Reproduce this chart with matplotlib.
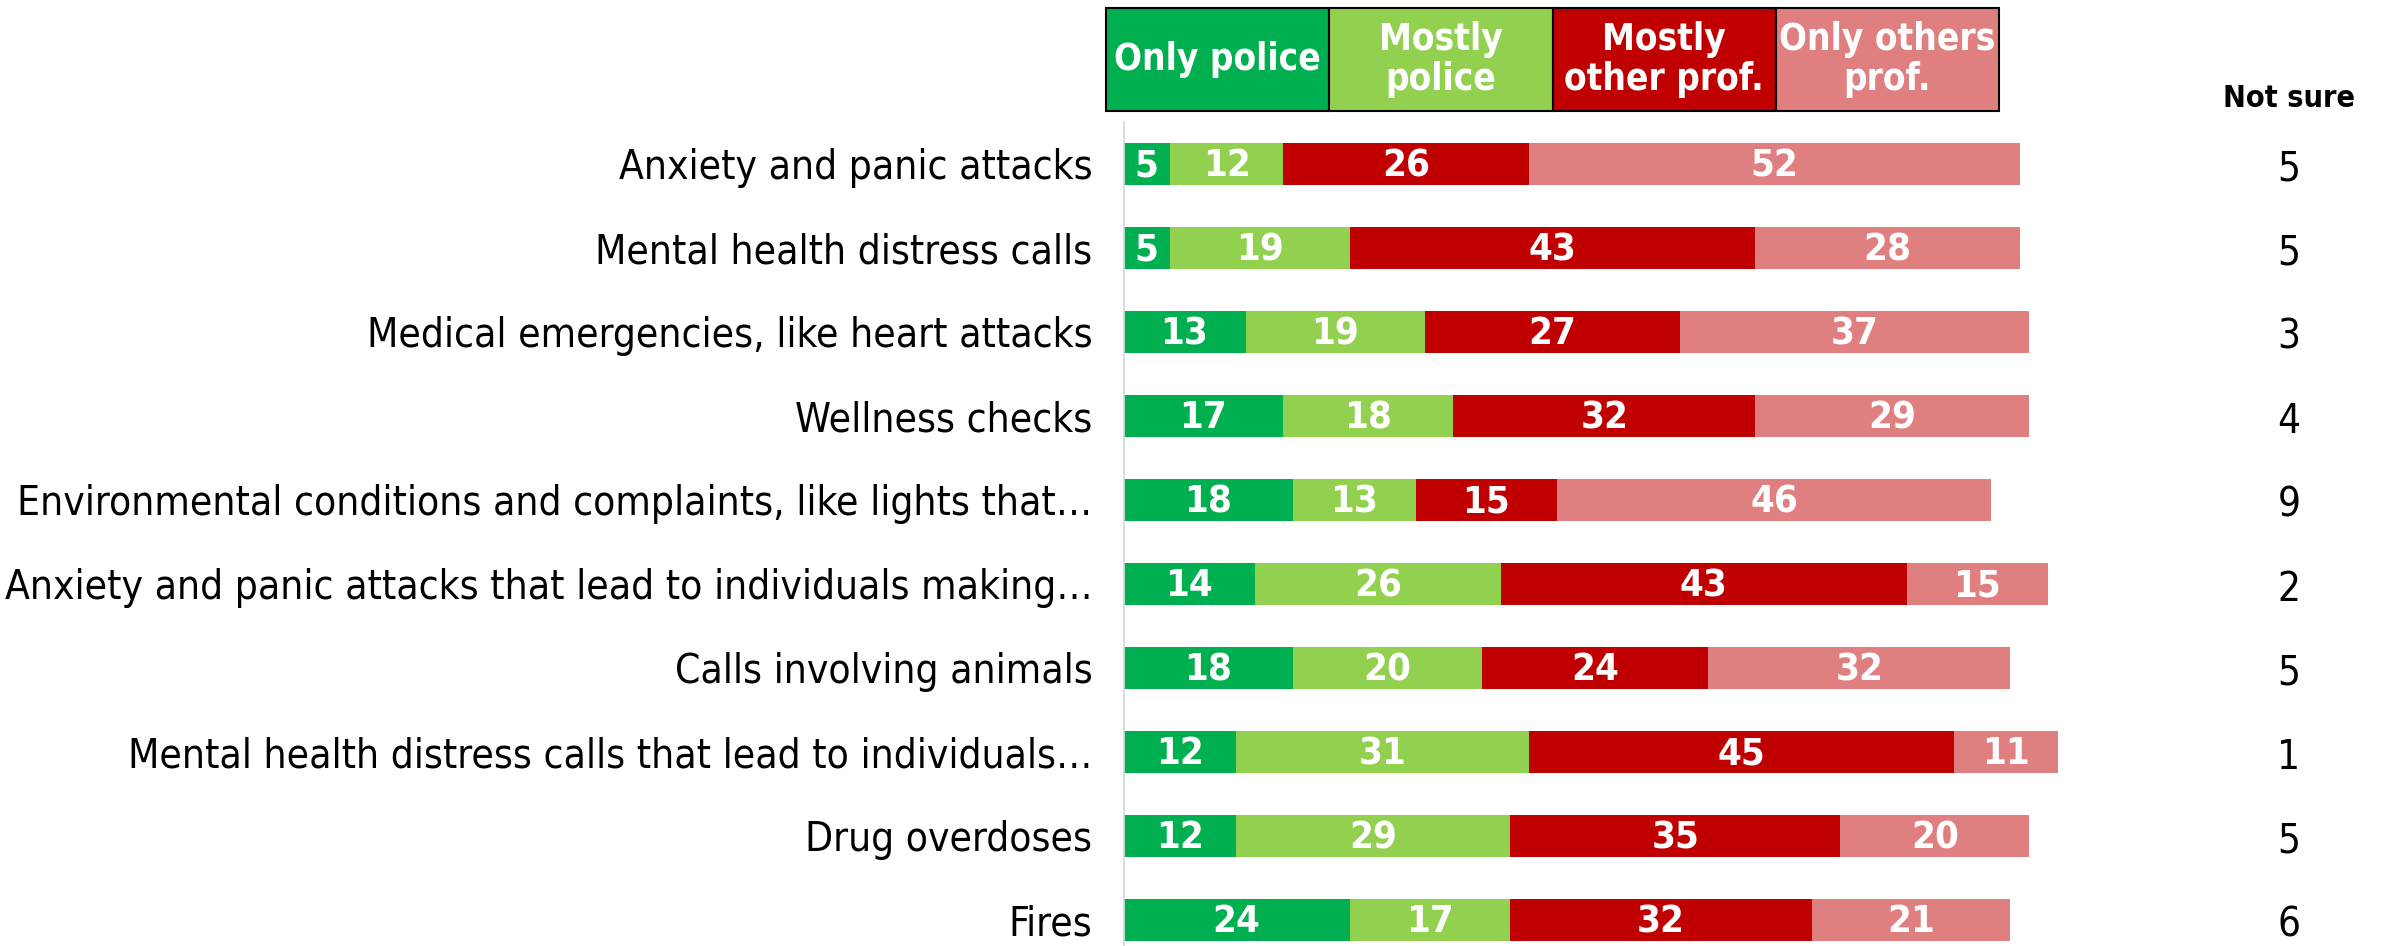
import matplotlib
matplotlib.use("Agg")
from matplotlib import pyplot as plt
from matplotlib.patches import Rectangle

plt.rcParams['font.family'] = ['DejaVu Sans']
plt.rcParams['font.stretch'] = 'condensed'

categories = [
    "Anxiety and panic attacks",
    "Mental health distress calls",
    "Medical emergencies, like heart attacks",
    "Wellness checks",
    "Environmental conditions and complaints, like lights that\u2026",
    "Anxiety and panic attacks that lead to individuals making\u2026",
    "Calls involving animals",
    "Mental health distress calls that lead to individuals\u2026",
    "Drug overdoses",
    "Fires",
]
only_police = [5, 5, 13, 17, 18, 14, 18, 12, 12, 24]
mostly_police = [12, 19, 19, 18, 13, 26, 20, 31, 29, 17]
mostly_other = [26, 43, 27, 32, 15, 43, 24, 45, 35, 32]
only_other = [52, 28, 37, 29, 46, 15, 32, 11, 20, 21]
not_sure = [5, 5, 3, 4, 9, 2, 5, 1, 5, 6]

series_names = ["Only police", "Mostly\npolice", "Mostly\nother prof.", "Only others\nprof."]
colors = ["#00B050", "#92D050", "#C00000", "#E07F80"]
series = [only_police, mostly_police, mostly_other, only_other]

fig = plt.figure(figsize=(23.85, 9.46), dpi=100)
ax = fig.add_axes([1123 / 2385, 0, 1 - 1123 / 2385, 1])
ax.set_xlim(0, (2385 - 1123) / 9.44)
ax.set_ylim(9.31, -1.952)

ypos = list(range(len(categories)))
left = [0] * len(categories)
for vals, col in zip(series, colors):
    ax.barh(ypos, vals, left=left, height=0.5, color=col)
    for y, v, l in zip(ypos, vals, left):
        ax.text(l + v / 2, y + 0.03, str(v), ha='center', va='center', color='white',
                fontsize=27.5, fontweight='bold')
    left = [a + b for a, b in zip(left, vals)]

# not sure column
xs = (2289 - 1123) / 9.44
ax.text(xs, -0.78, "Not sure", ha='center', va='center', fontsize=22, fontweight='bold')
for y, v in zip(ypos, not_sure):
    ax.text(xs, y + 0.07, str(v), ha='center', va='center', fontsize=29)

# legend boxes
bx0 = (1106 - 1123) / 9.44
bw = (1999 - 1106) / 9.44 / 4
btop, bbot = (8 - 164) / 84, (111 - 164) / 84
for k, (name, col) in enumerate(zip(series_names, colors)):
    ax.add_patch(Rectangle((bx0 + k * bw, btop), bw, bbot - btop, facecolor=col,
                           edgecolor='black', linewidth=1.5, clip_on=False))
    ax.text(bx0 + k * bw + bw / 2, (btop + bbot) / 2, name, ha='center', va='center',
            color='white', fontsize=26.5, fontweight='bold', linespacing=1.1)

ax.plot([0, 0], [-0.5, 9.31], color='#d9d9d9', linewidth=2)

ax.set_yticks(ypos)
ax.set_yticklabels(categories, fontsize=29.2)
ax.tick_params(axis='y', length=0, pad=22)
ax.set_xticks([])
for s in ax.spines.values():
    s.set_visible(False)

plt.savefig("out.png", dpi=100)
